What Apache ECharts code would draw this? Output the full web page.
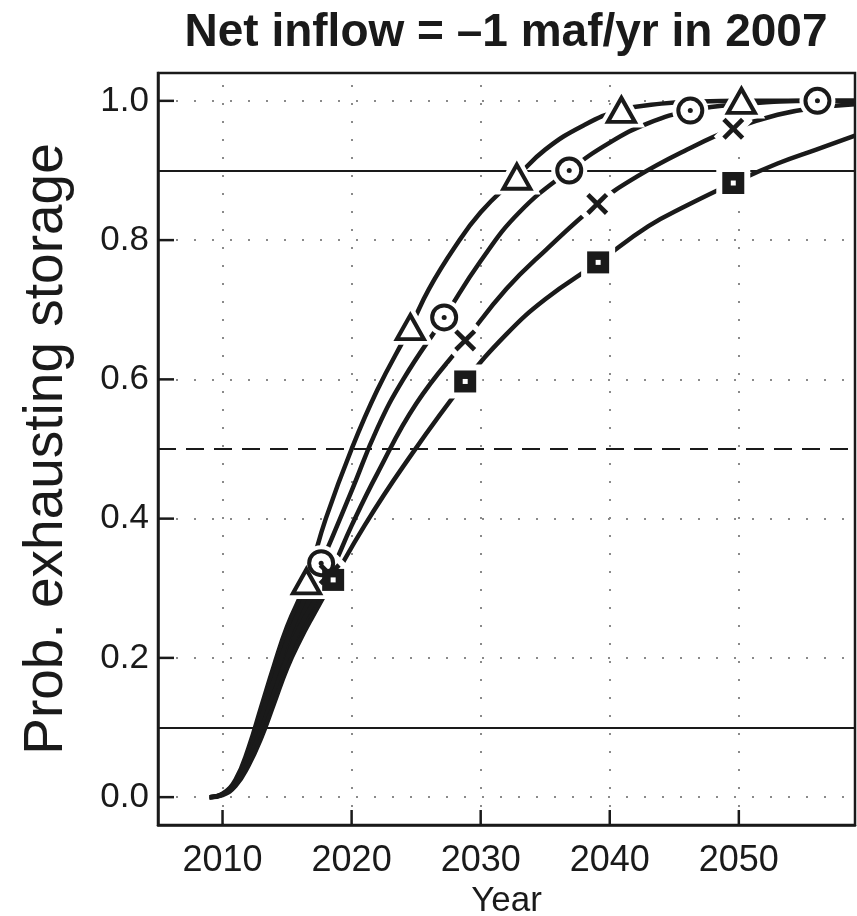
<!DOCTYPE html>
<html><head><meta charset="utf-8">
<script src="https://cdn.jsdelivr.net/npm/echarts@6/dist/echarts.min.js"></script>
<style>html,body{margin:0;padding:0;background:#fff}#c{width:857px;height:916px}</style>
</head><body><div id="c"></div>
<script>
// ---- data ----
const triYears  = [2009, 2010, 2011, 2012, 2013, 2014, 2015, 2016.5, 2018, 2020, 2022, 2024.55, 2026, 2028, 2030, 2032.8, 2035, 2038, 2040.9, 2044, 2047, 2050.2, 2054, 2059];
const triVals   = [0, 0.005, 0.025, 0.07, 0.13, 0.19, 0.245, 0.31, 0.40, 0.50, 0.585, 0.675, 0.73, 0.79, 0.84, 0.891, 0.93, 0.965, 0.987, 0.996, 0.999, 1.0, 1.0, 1.0];
const triMarkYears = [2016.5, 2024.55, 2032.8, 2040.9, 2050.2];

const cirYears  = [2009, 2010, 2011, 2012, 2013, 2014, 2015, 2016, 2017.64, 2020, 2022, 2024, 2027.17, 2030, 2033, 2036.86, 2040, 2043, 2046.24, 2050, 2056.09, 2059];
const cirVals   = [0, 0.004, 0.02, 0.06, 0.115, 0.17, 0.225, 0.27, 0.336, 0.44, 0.53, 0.6, 0.689, 0.77, 0.84, 0.9, 0.94, 0.968, 0.986, 0.995, 1.0, 1.0];
const cirMarkYears = [2017.64, 2027.17, 2036.86, 2046.24, 2056.09];

const crsYears  = [2009, 2010, 2011, 2012, 2013, 2014, 2015, 2016, 2018.3, 2020, 2022, 2025, 2028.8, 2032, 2035, 2039.03, 2042, 2046, 2049.57, 2053, 2056, 2059];
const crsVals   = [0, 0.004, 0.018, 0.052, 0.098, 0.15, 0.2, 0.245, 0.32, 0.39, 0.465, 0.565, 0.656, 0.73, 0.785, 0.852, 0.89, 0.93, 0.96, 0.98, 0.99, 0.995];
const crsMarkYears = [2018.3, 2028.8, 2039.03, 2049.57];

const sqrYears  = [2009, 2010, 2011, 2012, 2013, 2014, 2015, 2016, 2017, 2018.57, 2021, 2024, 2028.8, 2032, 2035, 2039.1, 2043, 2046, 2049.57, 2053, 2056, 2059];
const sqrVals   = [0, 0.003, 0.016, 0.045, 0.085, 0.135, 0.185, 0.225, 0.26, 0.312, 0.39, 0.475, 0.597, 0.665, 0.715, 0.768, 0.82, 0.85, 0.882, 0.91, 0.93, 0.95];
const sqrMarkYears = [2018.57, 2028.8, 2039.1, 2049.57];

const xTicks = [2010, 2020, 2030, 2040, 2050];
const yTicks = [0, 0.2, 0.4, 0.6, 0.8, 1.0];
const refSolid = [0.1, 0.9];
const refDashed = [0.5];

const titleText = 'Net inflow = \u20131 maf/yr in 2007';
const xName = 'Year';
const yName = 'Prob. exhausting storage';

// ---- build ----
const X_MIN = 2005, X_MAX = 2059, Y_MIN = -0.04, Y_MAX = 1.04;
const zip = (xs, ys) => xs.map((x, i) => [x, ys[i]]);
const pick = (xs, ys, marks) => marks.map(m => [m, ys[xs.indexOf(m)]]);
const FONT = '"Liberation Sans", Arial, Helvetica, sans-serif';
const INK = '#1a1a1a';
const crossPath = 'path://M0,15 L15,0 L50,35 L85,0 L100,15 L65,50 L100,85 L85,100 L50,65 L15,100 L0,85 L35,50 Z';

const curves = [
  {name: 'tri', d: zip(triYears, triVals), m: pick(triYears, triVals, triMarkYears), sym: 'triangle', size: [27, 24], fill: '#fff', bw: 4},
  {name: 'cir', d: zip(cirYears, cirVals), m: pick(cirYears, cirVals, cirMarkYears), sym: 'circle', size: 24, fill: '#fff', bw: 4, dot: INK},
  {name: 'crs', d: zip(crsYears, crsVals), m: pick(crsYears, crsVals, crsMarkYears), sym: crossPath, size: 22, fill: INK, bw: 0},
  {name: 'sqr', d: zip(sqrYears, sqrVals), m: pick(sqrYears, sqrVals, sqrMarkYears), sym: 'rect', size: 22, fill: INK, bw: 0, dot: '#fff'}
];

// dense low part where the four curves overlap: region between the top and bottom curves
const wedgeTop = curves[0].d.filter(p => p[0] <= triMarkYears[0]);
const wedgeBottom = curves[3].d.filter(p => p[0] <= sqrMarkYears[0]).reverse();
const wedge = wedgeTop.concat(wedgeBottom);

// axis tick positions (third value: 0 = x-axis tick, 1 = y-axis tick)
const tickData = xTicks.map(v => [v, Y_MIN, 0]).concat(yTicks.map(v => [X_MIN, v, 1]));

const series = [];
const dotStyle = {color: '#8a8a8a', width: 2, type: [2, 16]};
series.push({
  type: 'line', name: 'guides', data: [[2009, 0]], symbol: 'none', lineStyle: {width: 0}, z: 1, silent: true,
  markLine: {
    z: 1, silent: true, symbol: ['none', 'none'], label: {show: false}, animation: false,
    data: [
      ...xTicks.map(v => ({xAxis: v, lineStyle: dotStyle})),
      ...yTicks.map(v => ({yAxis: v, lineStyle: dotStyle})),
      ...refSolid.map(v => ({yAxis: v, lineStyle: {color: INK, width: 2, type: 'solid'}})),
      ...refDashed.map(v => ({yAxis: v, lineStyle: {color: INK, width: 2, type: [18, 10]}}))
    ]
  }
});
series.push({
  type: 'custom', name: 'wedge', data: wedge, z: 2, silent: true,
  encode: {x: 0, y: 1},
  renderItem: (params, api) => {
    if (params.dataIndex !== 0) return null;
    const pts = wedge.map(p => api.coord(p));
    return {type: 'polygon', shape: {points: pts}, style: {fill: INK, stroke: INK, lineWidth: 1}};
  }
});
curves.forEach(c => {
  series.push({type: 'line', name: c.name, data: c.d, symbol: 'none', smooth: 0.45,
    lineStyle: {color: INK, width: 4.5}, z: 2, silent: true});
});
curves.forEach(c => {
  series.push({type: 'scatter', name: c.name + '-halo', data: c.m, symbol: c.sym, symbolSize: c.size,
    itemStyle: {color: '#fff', borderColor: '#fff', borderWidth: 12, opacity: 1}, z: 3, silent: true});
});
curves.forEach(c => {
  series.push({type: 'scatter', name: c.name + '-mark', data: c.m, symbol: c.sym, symbolSize: c.size,
    itemStyle: {color: c.fill, borderColor: INK, borderWidth: c.bw, opacity: 1}, z: 4, silent: true});
  if (c.dot) {
    series.push({type: 'scatter', name: c.name + '-dot', data: c.m, symbol: c.name === 'sqr' ? 'rect' : 'circle', symbolSize: 5,
      itemStyle: {color: c.dot, opacity: 1}, z: 5, silent: true});
  }
});
// inward axis ticks, positioned through the axis scales
series.push({
  type: 'custom', name: 'ticks', data: tickData, z: 6, silent: true, clip: false,
  encode: {x: 0, y: 1},
  renderItem: (params, api) => {
    const p = api.coord([api.value(0), api.value(1)]);
    const isY = api.value(2) === 1;
    const shape = isY ? {x1: p[0], y1: p[1], x2: p[0] + 16, y2: p[1]}
                      : {x1: p[0], y1: p[1], x2: p[0], y2: p[1] - 15};
    return {type: 'line', shape: shape, style: {stroke: INK, lineWidth: 2.5}};
  }
});

const chart = echarts.init(document.getElementById('c'), null, {renderer: 'canvas'});
chart.setOption({
  animation: false,
  backgroundColor: '#fff',
  title: {text: titleText, left: 506, top: 10, padding: 0, textAlign: 'center',
    textStyle: {fontFamily: FONT, fontSize: 46, fontWeight: 'bold', color: INK}},
  grid: {left: 158, right: 2, top: 73, bottom: 91, containLabel: false, outerBoundsMode: 'none',
    show: true, borderColor: INK, borderWidth: 2.5, backgroundColor: 'transparent'},
  xAxis: {type: 'value', position: 'bottom', min: X_MIN, max: X_MAX, name: xName, nameLocation: 'middle', nameGap: 58, z: 10,
    nameTextStyle: {fontFamily: FONT, fontSize: 35, color: INK},
    axisLine: {show: true, onZero: false, lineStyle: {color: INK, width: 2.5}}, splitLine: {show: false},
    axisTick: {show: false},
    axisLabel: {show: true, margin: 18, fontFamily: FONT, fontSize: 36, color: INK, customValues: xTicks, formatter: v => String(v)}
  },
  yAxis: {type: 'value', position: 'left', min: Y_MIN, max: Y_MAX, name: yName, nameLocation: 'middle', nameGap: 84, z: 10,
    nameTextStyle: {fontFamily: FONT, fontSize: 55, color: INK},
    axisLine: {show: true, onZero: false, lineStyle: {color: INK, width: 2.5}}, splitLine: {show: false},
    axisTick: {show: false},
    axisLabel: {show: true, margin: 9, fontFamily: FONT, fontSize: 35, color: INK, customValues: yTicks, formatter: v => v.toFixed(1)}
  },
  series: series
});
</script>
</body></html>
